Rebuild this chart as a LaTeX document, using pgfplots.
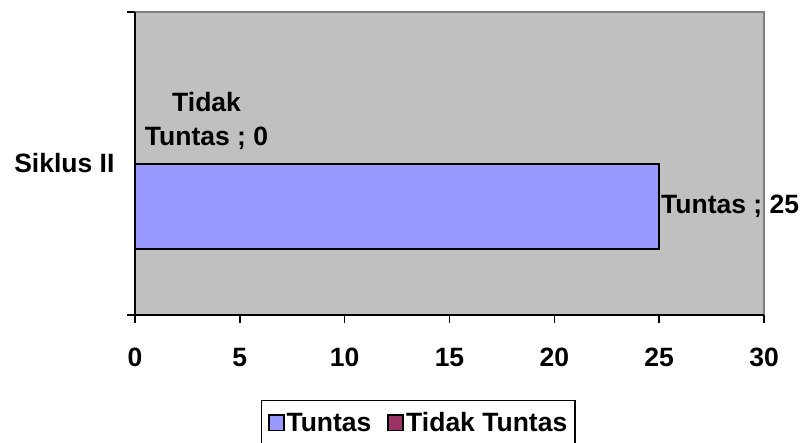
\documentclass[border=0pt]{standalone}
\usepackage{pgfplots}
\pgfplotsset{compat=1.18}
\usepackage{fontspec}
\setmainfont{Liberation Sans}
\definecolor{plotbg}{HTML}{C0C0C0}
\definecolor{tuntas}{HTML}{9999FF}
\definecolor{tidak}{HTML}{993366}
\definecolor{framegray}{HTML}{808080}
\newcommand{\cf}{\fontsize{26.5}{34}\selectfont\bfseries}
\begin{document}
\begin{tikzpicture}
\begin{axis}[
  scale only axis, width=629pt, height=303pt,
  xbar, clip=false,
  xmin=0, xmax=30, ymin=-0.5, ymax=0.5,
  axis line style={draw=none},
  axis background/.style={fill=plotbg},
  xtick={0,5,...,30}, xtick pos=bottom,
  ytick={-0.5,0.5}, yticklabels={,}, ytick pos=left,
  extra y ticks={0}, extra y tick labels={Siklus II},
  extra y tick style={major tick length=0pt, yticklabel style={xshift=-17pt}},
  tick align=outside, major tick length=8pt,
  tick style={black, line width=1.5pt},
  /pgf/number format/assume math mode=true,
  tick label style={font=\cf},
  xticklabel style={anchor=north, text height=19pt, text depth=0pt, yshift=-21pt},
  legend columns=2,
  legend style={at={(0.2003,-0.2805)}, anchor=north west, draw=black, line width=1.5pt,
    fill=white, font=\cf, inner xsep=6pt, inner ysep=10pt,
    /tikz/every even column/.append style={column sep=14pt}},
  legend cell align=left,
]
\addplot+[draw=black, line width=2pt, fill=tuntas, bar width=0.2838, bar shift=-0.1419,
  legend image code/.code={\draw[fill=tuntas, draw=black, line width=1.8pt] (0pt,-7.5pt) rectangle (15pt,8pt);},
  nodes near coords={Tuntas ; 25},
  every node near coord/.append style={font=\cf, anchor=west, inner sep=0pt, xshift=1pt, black}]
  coordinates {(25,0)};
\addplot+[draw=black, line width=2pt, fill=tidak, bar width=0.2838, bar shift=0.1419,
  legend image code/.code={\draw[fill=tidak, draw=black, line width=1.8pt] (0pt,-7.5pt) rectangle (15pt,8pt);},
  nodes near coords={Tidak\\Tuntas ; 0},
  every node near coord/.append style={font=\cf, anchor=west, align=center, inner sep=0pt, xshift=9pt, black}]
  coordinates {(0,0)};
\legend{Tuntas, Tidak Tuntas}
\draw[framegray, line width=2pt] (rel axis cs:0,1) -- (rel axis cs:1,1) -- (rel axis cs:1,0);
\draw[black, line width=2pt] (rel axis cs:0,1) -- (rel axis cs:0,0) -- (rel axis cs:1,0);
\end{axis}
\pgfresetboundingbox
\useasboundingbox (-135pt,-127pt) rectangle (668pt,315pt);
\end{tikzpicture}
\end{document}
